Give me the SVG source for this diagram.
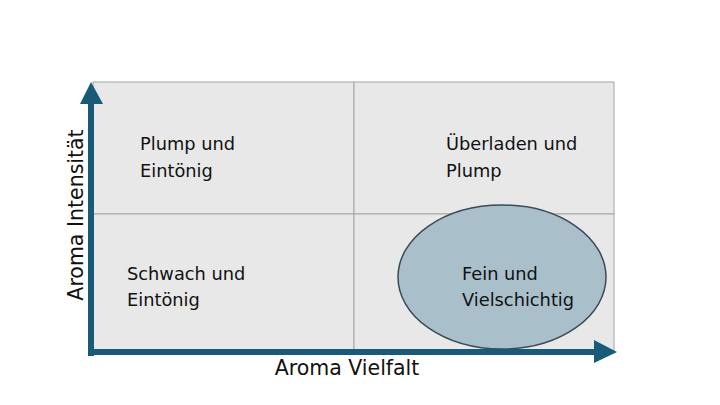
<svg xmlns="http://www.w3.org/2000/svg" width="720" height="405" viewBox="0 0 720 405">
<style>
.t{font-family:"DejaVu Sans","Liberation Sans",sans-serif;font-size:17.8px;fill:#111}
.ax{font-family:"DejaVu Sans","Liberation Sans",sans-serif;font-size:20.5px;fill:#111}
.cell{fill:#e8e8e8;stroke:#a6a6a6;stroke-width:1}
</style>
<rect width="720" height="405" fill="#fff"/>
<g id="grid">
<rect class="cell" x="93" y="82" width="261" height="132"/>
<rect class="cell" x="354" y="82" width="260" height="132"/>
<rect class="cell" x="93" y="214" width="261" height="138"/>
<rect class="cell" x="354" y="214" width="260" height="138"/>
</g>
<g id="q1"><text class="t" x="140" y="150">Plump und</text><text class="t" x="140" y="177">Eintönig</text></g>
<g id="q2"><text class="t" x="446" y="150">Überladen und</text><text class="t" x="446" y="177">Plump</text></g>
<g id="q3"><text class="t" x="127" y="280">Schwach und</text><text class="t" x="127" y="306">Eintönig</text></g>
<g id="q4"><ellipse cx="502" cy="277" rx="104" ry="72" fill="#a9c0cb" stroke="#3b4b57" stroke-width="1.5"/>
<text class="t" x="462" y="280">Fein und</text><text class="t" x="462" y="306">Vielschichtig</text></g>
<g id="connectors" fill="#185b78">
<rect x="88" y="102" width="6" height="254"/>
<polygon points="80,104 91,82 103,104"/>
<rect x="88" y="349" width="508" height="6"/>
<polygon points="594,340 617,352 594,363"/>
</g>
<text class="ax" x="347" y="375" text-anchor="middle">Aroma Vielfalt</text>
<text class="ax" transform="translate(83,215) rotate(-90)" text-anchor="middle">Aroma Intensität</text>
</svg>
